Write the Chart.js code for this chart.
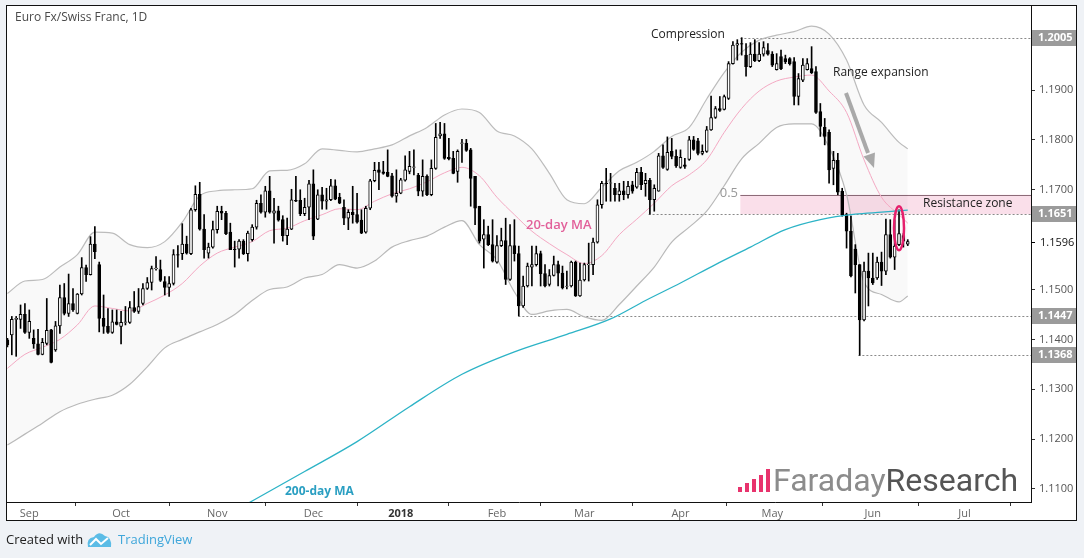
<!DOCTYPE html>
<html>
<head>
<meta charset="utf-8">
<script src="https://cdn.jsdelivr.net/npm/chart.js@4.4.1/dist/chart.umd.min.js"></script>
<style>
  html, body { margin: 0; padding: 0; background: #eff2f6; }
  canvas { display: block; }
</style>
</head>
<body>
<canvas id="chart" width="1084" height="558"></canvas>
<script>
// EUR/CHF daily candles, bar index 0 = 25 Aug 2017 ... 206 = 13 Jun 2018
var opens = [
  1.1399,1.1409,1.1440,1.1440,1.1450,1.1414,1.1402,1.1391,1.1370,1.1392,
  1.1419,1.1379,1.1427,1.1484,1.1452,1.1472,1.1452,1.1491,1.1544,1.1530,
  1.1591,1.1550,1.1442,1.1426,1.1414,1.1435,1.1426,1.1434,1.1434,1.1464,
  1.1456,1.1472,1.1502,1.1514,1.1542,1.1540,1.1516,1.1504,1.1512,1.1570,
  1.1572,1.1591,1.1572,1.1660,1.1691,1.1621,1.1573,1.1585,1.1620,1.1657,
  1.1653,1.1615,1.1581,1.1581,1.1597,1.1572,1.1600,1.1625,1.1673,1.1655,
  1.1698,1.1653,1.1658,1.1640,1.1608,1.1621,1.1679,1.1679,1.1652,1.1665,
  1.1712,1.1641,1.1690,1.1677,1.1680,1.1708,1.1685,1.1665,1.1643,1.1655,
  1.1650,1.1639,1.1615,1.1663,1.1718,1.1740,1.1736,1.1735,1.1728,1.1687,
  1.1693,1.1719,1.1737,1.1745,1.1729,1.1697,1.1727,1.1690,1.1743,1.1808,
  1.1812,1.1765,1.1763,1.1737,1.1793,1.1793,1.1780,1.1727,1.1667,1.1601,
  1.1610,1.1590,1.1555,1.1588,1.1598,1.1520,1.1588,1.1572,1.1467,1.1507,
  1.1545,1.1550,1.1572,1.1532,1.1510,1.1528,1.1550,1.1533,1.1506,1.1507,
  1.1555,1.1487,1.1519,1.1550,1.1550,1.1595,1.1670,1.1713,1.1713,1.1703,
  1.1690,1.1698,1.1690,1.1710,1.1705,1.1735,1.1712,1.1719,1.1680,1.1697,
  1.1768,1.1741,1.1777,1.1767,1.1745,1.1750,1.1761,1.1800,1.1798,1.1773,
  1.1777,1.1820,1.1845,1.1863,1.1861,1.1883,1.1953,1.1990,1.1993,1.1970,
  1.1947,1.1972,1.1959,1.1972,1.1979,1.1972,1.1941,1.1967,1.1963,1.1963,
  1.1957,1.1887,1.1920,1.1941,1.1943,1.1937,1.1857,1.1825,1.1815,1.1743,
  1.1759,1.1697,1.1650,1.1617,1.1581,1.1550,1.1439,1.1537,1.1523,1.1523,
  1.1555,1.1537,1.1610,1.1565,1.1590,1.1608,1.1591
];
var highs = [
  1.1402,1.1446,1.1446,1.1469,1.1472,1.1459,1.1419,1.1420,1.1402,1.1482,
  1.1420,1.1436,1.1509,1.1512,1.1531,1.1502,1.1492,1.1564,1.1549,1.1606,
  1.1626,1.1555,1.1489,1.1462,1.1459,1.1459,1.1456,1.1466,1.1476,1.1496,
  1.1502,1.1512,1.1524,1.1547,1.1566,1.1559,1.1526,1.1526,1.1580,1.1588,
  1.1632,1.1607,1.1663,1.1708,1.1715,1.1650,1.1593,1.1637,1.1667,1.1667,
  1.1657,1.1633,1.1597,1.1600,1.1600,1.1617,1.1630,1.1679,1.1690,1.1707,
  1.1727,1.1683,1.1667,1.1648,1.1643,1.1701,1.1727,1.1700,1.1683,1.1719,
  1.1740,1.1700,1.1705,1.1703,1.1721,1.1720,1.1693,1.1680,1.1660,1.1707,
  1.1693,1.1660,1.1667,1.1721,1.1755,1.1755,1.1757,1.1780,1.1733,1.1740,
  1.1723,1.1768,1.1777,1.1780,1.1733,1.1760,1.1730,1.1760,1.1833,1.1835,
  1.1833,1.1803,1.1777,1.1780,1.1801,1.1801,1.1783,1.1727,1.1667,1.1640,
  1.1627,1.1640,1.1608,1.1623,1.1643,1.1630,1.1640,1.1587,1.1527,1.1553,
  1.1587,1.1587,1.1577,1.1550,1.1540,1.1567,1.1557,1.1547,1.1537,1.1557,
  1.1557,1.1553,1.1553,1.1593,1.1603,1.1680,1.1717,1.1743,1.1733,1.1713,
  1.1713,1.1717,1.1717,1.1717,1.1743,1.1745,1.1733,1.1723,1.1710,1.1773,
  1.1790,1.1806,1.1803,1.1780,1.1780,1.1763,1.1807,1.1807,1.1803,1.1790,
  1.1827,1.1888,1.1867,1.1887,1.1890,1.1957,1.1997,1.2001,1.2005,1.1993,
  1.1995,1.2001,1.1995,1.1997,1.1993,1.1977,1.1973,1.1980,1.1970,1.1965,
  1.1965,1.1933,1.1963,1.1963,1.1987,1.1947,1.1873,1.1843,1.1820,1.1777,
  1.1773,1.1703,1.1653,1.1647,1.1590,1.1550,1.1555,1.1573,1.1573,1.1565,
  1.1575,1.1641,1.1640,1.1640,1.1660,1.1612,1.1600
];
var lows = [
  1.1385,1.1369,1.1366,1.1422,1.1412,1.1402,1.1382,1.1369,1.1369,1.1389,
  1.1353,1.1376,1.1412,1.1449,1.1446,1.1456,1.1451,1.1489,1.1516,1.1529,
  1.1562,1.1415,1.1412,1.1412,1.1412,1.1429,1.1391,1.1429,1.1432,1.1454,
  1.1452,1.1469,1.1500,1.1499,1.1539,1.1516,1.1489,1.1486,1.1509,1.1545,
  1.1560,1.1571,1.1570,1.1657,1.1619,1.1563,1.1563,1.1583,1.1613,1.1640,
  1.1610,1.1580,1.1545,1.1563,1.1570,1.1557,1.1597,1.1621,1.1653,1.1645,
  1.1653,1.1593,1.1637,1.1597,1.1590,1.1620,1.1676,1.1648,1.1648,1.1640,
  1.1600,1.1640,1.1661,1.1661,1.1678,1.1680,1.1672,1.1630,1.1620,1.1633,
  1.1633,1.1612,1.1613,1.1660,1.1716,1.1700,1.1731,1.1726,1.1685,1.1675,
  1.1692,1.1717,1.1732,1.1730,1.1688,1.1687,1.1688,1.1688,1.1741,1.1803,
  1.1761,1.1760,1.1732,1.1715,1.1755,1.1777,1.1667,1.1630,1.1593,1.1543,
  1.1588,1.1555,1.1553,1.1586,1.1510,1.1518,1.1557,1.1447,1.1464,1.1505,
  1.1507,1.1547,1.1507,1.1505,1.1507,1.1527,1.1507,1.1501,1.1501,1.1505,
  1.1486,1.1486,1.1517,1.1517,1.1530,1.1593,1.1663,1.1677,1.1677,1.1677,
  1.1677,1.1680,1.1683,1.1693,1.1703,1.1700,1.1687,1.1651,1.1657,1.1697,
  1.1743,1.1739,1.1762,1.1745,1.1743,1.1743,1.1759,1.1779,1.1770,1.1770,
  1.1775,1.1819,1.1843,1.1857,1.1860,1.1881,1.1952,1.1960,1.1970,1.1928,
  1.1945,1.1957,1.1957,1.1968,1.1970,1.1947,1.1940,1.1941,1.1953,1.1950,
  1.1870,1.1870,1.1917,1.1940,1.1933,1.1853,1.1807,1.1790,1.1713,1.1710,
  1.1690,1.1647,1.1583,1.1525,1.1493,1.1368,1.1437,1.1467,1.1510,1.1520,
  1.1508,1.1530,1.1563,1.1540,1.1588,1.1585,1.1588
];
var closes = [
  1.1389,1.1440,1.1442,1.1450,1.1414,1.1436,1.1391,1.1370,1.1394,1.1418,
  1.1354,1.1427,1.1484,1.1452,1.1472,1.1459,1.1491,1.1544,1.1530,1.1591,
  1.1576,1.1442,1.1426,1.1414,1.1435,1.1430,1.1434,1.1435,1.1464,1.1456,
  1.1466,1.1502,1.1514,1.1542,1.1543,1.1518,1.1504,1.1512,1.1570,1.1569,
  1.1591,1.1573,1.1660,1.1691,1.1621,1.1580,1.1585,1.1620,1.1657,1.1653,
  1.1612,1.1580,1.1580,1.1597,1.1572,1.1613,1.1625,1.1673,1.1655,1.1698,
  1.1655,1.1658,1.1639,1.1608,1.1621,1.1680,1.1677,1.1652,1.1665,1.1712,
  1.1607,1.1690,1.1677,1.1680,1.1708,1.1681,1.1673,1.1643,1.1655,1.1650,
  1.1635,1.1613,1.1663,1.1718,1.1739,1.1735,1.1733,1.1727,1.1687,1.1693,
  1.1720,1.1740,1.1747,1.1746,1.1697,1.1727,1.1690,1.1743,1.1805,1.1812,
  1.1763,1.1762,1.1733,1.1777,1.1794,1.1779,1.1723,1.1663,1.1597,1.1610,
  1.1590,1.1557,1.1588,1.1598,1.1520,1.1588,1.1572,1.1467,1.1507,1.1547,
  1.1550,1.1572,1.1532,1.1507,1.1528,1.1550,1.1533,1.1503,1.1507,1.1555,
  1.1487,1.1519,1.1550,1.1551,1.1595,1.1670,1.1713,1.1712,1.1714,1.1690,
  1.1698,1.1690,1.1707,1.1697,1.1735,1.1710,1.1719,1.1680,1.1703,1.1768,
  1.1745,1.1775,1.1767,1.1748,1.1765,1.1747,1.1800,1.1781,1.1773,1.1777,
  1.1820,1.1845,1.1863,1.1859,1.1887,1.1953,1.1990,1.1993,1.1992,1.1947,
  1.1972,1.1959,1.1972,1.1985,1.1972,1.1950,1.1953,1.1943,1.1957,1.1953,
  1.1887,1.1923,1.1950,1.1953,1.1935,1.1855,1.1827,1.1807,1.1740,1.1759,
  1.1695,1.1650,1.1617,1.1527,1.1550,1.1439,1.1537,1.1523,1.1513,1.1555,
  1.1537,1.1610,1.1565,1.1587,1.1612,1.1597,1.1596
];

// Bollinger band / 20-day MA at these bar indexes
var bandIdx = [0,4,8,12,16,20,24,28,32,36,40,44,48,52,56,60,64,68,72,76,
               80,84,88,92,96,100,104,108,112,116,120,124,128,132,136,140,144,148,152,156,
               160,164,168,172,176,180,184,188,192,196,200,204,206];
var upperBand = [1.1492,1.1517,1.1520,1.1545,1.1570,1.1615,1.1613,1.1590,1.1584,1.1596,
                 1.1635,1.1688,1.1698,1.1700,1.1702,1.1738,1.1739,1.1752,1.1782,1.1779,
                 1.1776,1.1782,1.1790,1.1808,1.1825,1.1850,1.1862,1.1855,1.1818,1.1808,
                 1.1782,1.1733,1.1680,1.1672,1.1705,1.1738,1.1755,1.1777,1.1807,1.1825,
                 1.1882,1.1935,1.1976,1.2000,1.2010,1.2017,1.2028,1.2012,1.1960,1.1870,
                 1.1835,1.1795,1.1782];
var lowerBand = [1.1188,1.1210,1.1232,1.1255,1.1270,1.1280,1.1288,1.1310,1.1345,1.1383,
                 1.1400,1.1415,1.1430,1.1450,1.1478,1.1500,1.1505,1.1523,1.1530,1.1550,
                 1.1543,1.1557,1.1585,1.1598,1.1607,1.1625,1.1638,1.1590,1.1560,1.1495,
                 1.1450,1.1457,1.1460,1.1445,1.1438,1.1470,1.1507,1.1545,1.1595,1.1625,
                 1.1657,1.1708,1.1762,1.1793,1.1825,1.1832,1.1832,1.1785,1.1690,1.1515,
                 1.1490,1.1475,1.1487];
var ma20 = [1.1342,1.1370,1.1384,1.1400,1.1429,1.1467,1.1462,1.1457,1.1472,1.1489,
            1.1512,1.1547,1.1573,1.1585,1.1596,1.1618,1.1623,1.1638,1.1650,1.1662,
            1.1660,1.1677,1.1692,1.1702,1.1716,1.1734,1.1745,1.1728,1.1685,1.1650,
            1.1617,1.1592,1.1570,1.1552,1.1568,1.1610,1.1641,1.1673,1.1708,1.1730,
            1.1760,1.1815,1.1863,1.1898,1.1918,1.1926,1.1930,1.1898,1.1855,1.1760,
            1.1685,1.1650,1.1633];

// 200-day MA
var ma200Idx = [54,56,68,80,92,104,116,128,138,146,154,162,170,178,186,194,200,206];
var ma200 = [1.1066,1.1076,1.1135,1.1195,1.1265,1.1330,1.1375,1.1410,1.1441,1.1478,
             1.1513,1.1550,1.1585,1.1620,1.1640,1.1651,1.1655,1.1659];

// axes
var monthIdx = [5,26,48,70,90,112,132,154,175,198,219];
var monthLabels = ['Sep','Oct','Nov','Dec','2018','Feb','Mar','Apr','May','Jun','Jul'];
var yTicks = [1.11,1.12,1.13,1.14,1.15,1.17,1.18,1.19];

// annotated levels
var levelPrices = [1.2005, 1.1651, 1.1447, 1.1368];
var levelStart  = [167.7, 146.7, 116.9, 194.7];
var lastPrice = 1.1596;
var zoneTop = 1.1690, zoneBottom = 1.1651, zoneStart = 167.7;

var FONT = "'Open Sans', 'DejaVu Sans', sans-serif";

function toPoints(xs, ys) {
  return xs.map(function (x, i) { return { x: x, y: ys[i] }; });
}

var bodies = opens.map(function (o, i) { return { x: i, y: [o, closes[i]] }; });
var wicks  = lows.map(function (l, i) { return { x: i, y: [l, highs[i]] }; });
var bodyColors = opens.map(function (o, i) { return closes[i] >= o ? '#ffffff' : '#000000'; });

// ---------- decoration plugin ----------
var deco = {
  id: 'deco',
  beforeDraw: function (chart) {
    var c = chart.ctx;
    c.save();
    c.fillStyle = '#eff2f6';
    c.fillRect(0, 0, chart.width, chart.height);
    c.fillStyle = '#ffffff';
    c.fillRect(6, 5, 1071, 516);
    c.restore();
  },
  beforeDatasetsDraw: function (chart) {
    var c = chart.ctx, x = chart.scales.x, y = chart.scales.y, a = chart.chartArea;
    c.save();
    c.beginPath();
    c.rect(a.left, a.top, a.right - a.left, a.bottom - a.top);
    c.clip();

    // resistance zone
    var zx = x.getPixelForValue(zoneStart);
    var zt = y.getPixelForValue(zoneTop), zb = y.getPixelForValue(zoneBottom);
    c.fillStyle = '#fadfea';
    c.fillRect(zx, zt, a.right - zx, zb - zt);
    c.strokeStyle = '#8c6b78';
    c.lineWidth = 1;
    c.beginPath();
    c.moveTo(zx, Math.round(zt) + 0.5);
    c.lineTo(a.right, Math.round(zt) + 0.5);
    c.stroke();

    // dotted levels
    c.setLineDash([2, 2]);
    c.strokeStyle = '#8a8a8a';
    levelPrices.forEach(function (p, k) {
      var py = Math.round(y.getPixelForValue(p)) + 0.5;
      c.beginPath();
      c.moveTo(x.getPixelForValue(levelStart[k]), py);
      c.lineTo(a.right, py);
      c.stroke();
    });
    c.restore();
  },
  afterDatasetsDraw: function (chart) {
    var c = chart.ctx, x = chart.scales.x, y = chart.scales.y;
    c.save();
    c.textBaseline = 'middle';

    c.font = '12px ' + FONT;
    c.fillStyle = '#4a4a4a';
    c.fillText('Euro Fx/Swiss Franc, 1D', 15, 18);

    c.fillStyle = '#222222';
    c.fillText('Compression', 651, 35);
    c.fillText('Range expansion', 833, 73);
    c.fillText('Resistance zone', 923, 204);

    c.font = '13px ' + FONT;
    c.fillStyle = '#9a9a9a';
    c.textAlign = 'right';
    c.fillText('0.5', 738, 193);
    c.textAlign = 'left';

    c.font = '600 13px ' + FONT;
    c.fillStyle = '#e2609a';
    c.fillText('20-day MA', 526, 225);
    c.font = 'bold 12px ' + FONT;
    c.fillStyle = '#2a9fc2';
    c.fillText('200-day MA', 285, 492);

    // arrow
    c.strokeStyle = '#a9a9a9';
    c.fillStyle = '#a9a9a9';
    c.lineWidth = 4;
    c.beginPath();
    c.moveTo(846, 93);
    c.lineTo(868, 153);
    c.stroke();
    c.beginPath();
    c.moveTo(874, 168);
    c.lineTo(863.5, 156.5);
    c.lineTo(875, 152.5);
    c.closePath();
    c.fill();

    // highlight ellipse
    c.strokeStyle = '#e61f6c';
    c.lineWidth = 2.5;
    c.beginPath();
    c.ellipse(x.getPixelForValue(204), y.getPixelForValue(1.1623), 5, 22, 0, 0, Math.PI * 2);
    c.stroke();

    // watermark
    c.fillStyle = '#e8336d';
    var bh = [5, 9, 13, 17, 23];
    for (var k = 0; k < bh.length; k++) {
      c.fillRect(738 + k * 7, 492 - bh[k], 4, bh[k]);
    }
    c.font = '32px Roboto, ' + FONT;
    c.textBaseline = 'alphabetic';
    c.fillStyle = '#8c8c8c';
    c.fillText('Faraday', 773, 491);
    var w = c.measureText('Faraday').width;
    c.fillStyle = '#555555';
    c.fillText('Research', 773 + w, 491);
    c.restore();
  },
  afterDraw: function (chart) {
    var c = chart.ctx, y = chart.scales.y;
    c.save();
    c.textBaseline = 'middle';
    c.font = '11px ' + FONT;

    // last price
    var ly = Math.round(y.getPixelForValue(lastPrice)) + 0.5;
    c.strokeStyle = '#000';
    c.lineWidth = 1;
    c.beginPath();
    c.moveTo(1031, ly);
    c.lineTo(1035, ly);
    c.stroke();
    c.fillStyle = '#111';
    c.fillText(lastPrice.toFixed(4), 1040, ly);

    // boxed levels
    levelPrices.forEach(function (p) {
      var py = Math.round(y.getPixelForValue(p));
      c.fillStyle = '#9b9b9b';
      c.fillRect(1032, py - 8, 45, 16);
      c.fillStyle = '#ffffff';
      c.font = 'bold 11px ' + FONT;
      c.fillText(p.toFixed(4), 1038, py);
    });

    // frame
    c.strokeStyle = '#111';
    c.lineWidth = 1;
    c.strokeRect(6.5, 5.5, 1070, 515);

    // footer
    c.font = '13px ' + FONT;
    c.fillStyle = '#222';
    c.fillText('Created with', 6, 540);
    c.fillStyle = '#5bbce6';
    c.beginPath();
    c.moveTo(88, 547);
    c.quadraticCurveTo(86, 538, 94, 537);
    c.quadraticCurveTo(99, 530, 105, 536);
    c.quadraticCurveTo(112, 537, 111, 547);
    c.closePath();
    c.fill();
    c.strokeStyle = '#ffffff';
    c.lineWidth = 2;
    c.beginPath();
    c.moveTo(90, 545);
    c.lineTo(96, 539);
    c.lineTo(101, 544);
    c.lineTo(108, 538);
    c.stroke();
    c.fillStyle = '#3ea6da';
    c.fillText('TradingView', 118, 540);
    c.restore();
  }
};

new Chart(document.getElementById('chart'), {
  type: 'bar',
  data: {
    datasets: [
      { type: 'line', label: '200-day MA', data: toPoints(ma200Idx, ma200), borderColor: '#2cb3c6', borderWidth: 1.3,
        pointRadius: 0, cubicInterpolationMode: 'monotone', order: 0 },
      { type: 'bar', label: 'body', data: bodies, grouped: false, barThickness: 3, borderWidth: 1,
        borderSkipped: false, borderColor: '#000000', backgroundColor: bodyColors, order: 1 },
      { type: 'bar', label: 'wick', data: wicks, grouped: false, barThickness: 1, borderWidth: 0,
        backgroundColor: '#000000', order: 2 },
      { type: 'line', label: '20-day MA', data: toPoints(bandIdx, ma20), borderColor: '#f4a9c3', borderWidth: 1,
        pointRadius: 0, cubicInterpolationMode: 'monotone', order: 3 },
      { type: 'line', label: 'upper', data: toPoints(bandIdx, upperBand), borderColor: '#bcbcbc', borderWidth: 1.2,
        pointRadius: 0, cubicInterpolationMode: 'monotone', fill: '+1', backgroundColor: 'rgba(0,0,0,0.025)', order: 4 },
      { type: 'line', label: 'lower', data: toPoints(bandIdx, lowerBand), borderColor: '#bcbcbc', borderWidth: 1.2,
        pointRadius: 0, cubicInterpolationMode: 'monotone', order: 4 }
    ]
  },
  options: {
    responsive: false,
    animation: false,
    layout: { padding: { left: 7, right: 7, top: 6, bottom: 37 } },
    plugins: { legend: { display: false }, tooltip: { enabled: false } },
    scales: {
      x: {
        type: 'linear', min: -0.1, max: 234.2, offset: false,
        afterBuildTicks: function (s) { s.ticks = monthIdx.map(function (v) { return { value: v }; }); },
        afterFit: function (s) { s.height = 19; s.paddingLeft = 0; s.paddingRight = 0; },
        ticks: {
          autoSkip: false, maxRotation: 0, padding: 1,
          callback: function (v) { var k = monthIdx.indexOf(v); return k < 0 ? '' : monthLabels[k]; },
          color: function (ctx) { return ctx.tick && ctx.tick.value === 90 ? '#333' : '#666'; },
          font: function (ctx) {
            return ctx.tick && ctx.tick.value === 90 ? { family: FONT, size: 11, weight: 'bold' } : { family: FONT, size: 11 };
          }
        },
        grid: { drawOnChartArea: false, drawTicks: true, tickLength: 4, color: '#333' },
        border: { display: true, color: '#111', width: 1 }
      },
      y: {
        type: 'linear', position: 'right', min: 1.10739, max: 1.20685,
        afterBuildTicks: function (s) { s.ticks = yTicks.map(function (v) { return { value: v }; }); },
        afterFit: function (s) { s.width = 46; s.paddingTop = 0; s.paddingBottom = 0; },
        ticks: {
          padding: 4, color: '#555', font: { family: FONT, size: 11 },
          callback: function (v) { return v.toFixed(4); }
        },
        grid: { drawOnChartArea: false, drawTicks: true, tickLength: 4, color: '#333' },
        border: { display: true, color: '#111', width: 1 }
      }
    }
  },
  plugins: [deco]
});
</script>
</body>
</html>
